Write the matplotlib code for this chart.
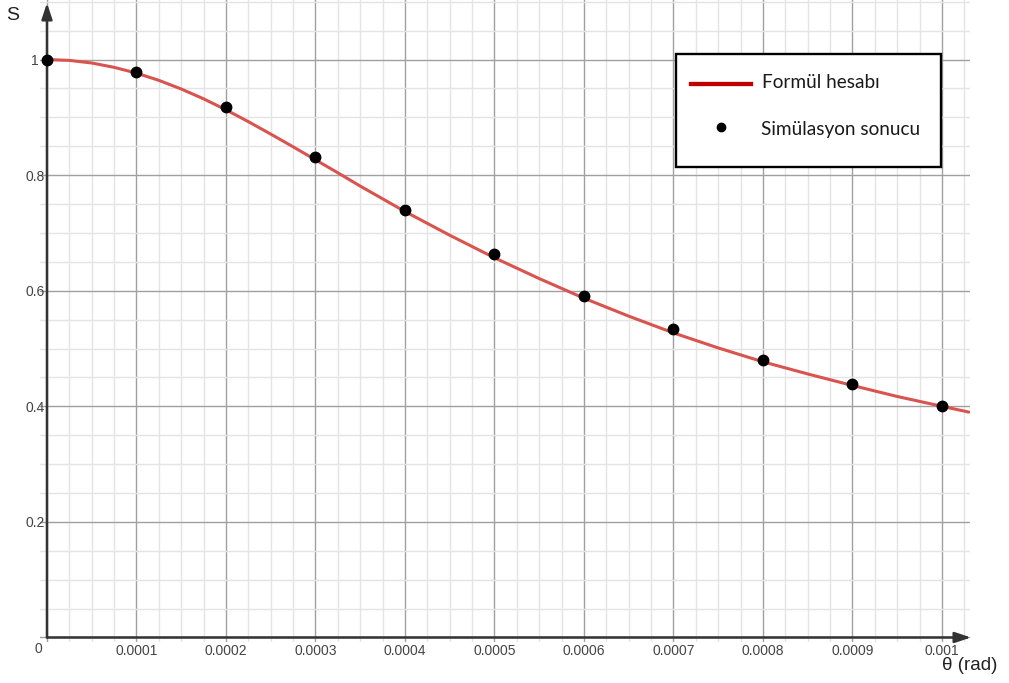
import matplotlib.pyplot as plt
from matplotlib.patches import Rectangle
from matplotlib.lines import Line2D
from matplotlib.ticker import MultipleLocator

# formula curve S(theta)
theta_curve = [0, 0.000025, 0.00005, 0.000075, 0.0001, 0.000125, 0.00015,
               0.000175, 0.0002, 0.000225, 0.00025, 0.000275, 0.0003,
               0.000325, 0.00035, 0.0004, 0.00045, 0.0005, 0.00055, 0.0006,
               0.00065, 0.0007, 0.00075, 0.0008, 0.00085, 0.0009, 0.00095,
               0.001, 0.00103]
s_curve = [1.000, 0.9985, 0.994, 0.9865, 0.9765, 0.964, 0.949,
           0.932, 0.913, 0.8925, 0.871, 0.849, 0.8265,
           0.804, 0.781, 0.737, 0.696, 0.657, 0.621, 0.587,
           0.556, 0.527, 0.501, 0.477, 0.456, 0.436, 0.417,
           0.400, 0.390]

# simulation results
theta_sim = [0, 0.0001, 0.0002, 0.0003, 0.0004, 0.0005, 0.0006, 0.0007,
             0.0008, 0.0009, 0.001]
s_sim = [1.000, 0.978, 0.918, 0.831, 0.740, 0.663, 0.590, 0.533,
         0.480, 0.438, 0.400]

x_ticks = [0, 0.0001, 0.0002, 0.0003, 0.0004, 0.0005, 0.0006, 0.0007,
           0.0008, 0.0009, 0.001]
x_tick_labels = ['', '0.0001', '0.0002', '0.0003', '0.0004', '0.0005',
                 '0.0006', '0.0007', '0.0008', '0.0009', '0.001']
y_ticks = [0, 0.2, 0.4, 0.6, 0.8, 1.0]
y_tick_labels = ['', '0.2', '0.4', '0.6', '0.8', '1']

W, H = 1009, 683


def px(x, y):
    # pixel position -> figure fraction
    return x / W, 1 - y / H


fig = plt.figure(figsize=(W / 100, H / 100), dpi=100)
ax = fig.add_axes([40 / W, 41 / H, 930 / W, 642 / H])
ax.set_xlim(-7.8e-6, 1.0313e-3)
ax.set_ylim(-0.0078, 1.103)

for s in ax.spines.values():
    s.set_visible(False)

ax.set_xticks(x_ticks)
ax.set_xticklabels(x_tick_labels)
ax.set_yticks(y_ticks)
ax.set_yticklabels(y_tick_labels)
ax.xaxis.set_minor_locator(MultipleLocator(0.000025))
ax.yaxis.set_minor_locator(MultipleLocator(0.05))
ax.tick_params(which='both', length=0)
ax.tick_params(axis='x', pad=1.5, labelsize=10, labelcolor='#444444')
ax.tick_params(axis='y', pad=3.6, labelsize=10, labelcolor='#444444')
for lbl in ax.get_xticklabels() + ax.get_yticklabels():
    lbl.set_fontfamily('Liberation Sans')
for lbl in ax.get_yticklabels():
    lbl.set_horizontalalignment('center')

ax.grid(which='major', color='#a0a0a0', lw=1.0)
ax.grid(which='minor', color='#e4e4e4', lw=1.0)
ax.set_axisbelow(True)

# axes with arrow heads
arrow_kw = dict(arrowstyle='-|>,head_length=0.6,head_width=0.2',
                color='#333333', lw=1.8, mutation_scale=16,
                shrinkA=0, shrinkB=0)
ax.annotate('', xy=(0.0010324, 0), xytext=(0, 0), arrowprops=arrow_kw,
            annotation_clip=False)
ax.annotate('', xy=(0, 1.0978), xytext=(0, 0), arrowprops=arrow_kw,
            annotation_clip=False)
ax.annotate('0', xy=(0, 0), xytext=(-6, -8.5), textcoords='offset points',
            ha='center', va='center', fontsize=10, color='#444444',
            family='Liberation Sans', annotation_clip=False)

ax.plot(theta_curve, s_curve, color='#d9534f', lw=2.2, zorder=4,
        solid_capstyle='round', solid_joinstyle='round')
ax.plot(theta_sim, s_sim, 'o', color='black', ms=7.5, zorder=5, clip_on=False)

fig.text(*px(13, 15), 'S', ha='center', va='center', fontsize=14,
         color='#222222', family='Liberation Sans')
fig.text(*px(970, 666), 'θ (rad)', ha='center', va='center', fontsize=13.5,
         color='#222222', family='Liberation Sans')

# legend box
x0, y0 = px(676, 167)
x1, y1 = px(941, 54)
fig.add_artist(Rectangle((x0, y0), x1 - x0, y1 - y0, transform=fig.transFigure,
                         facecolor='white', edgecolor='black', lw=1.7,
                         zorder=10))
lx0, ly = px(691, 84)
lx1, _ = px(751, 84)
fig.add_artist(Line2D([lx0, lx1], [ly, ly], transform=fig.transFigure,
                      color='#c00000', lw=3.1, zorder=11))
dx, dy = px(721, 127)
fig.add_artist(Line2D([dx], [dy], transform=fig.transFigure, marker='o',
                      color='black', ms=6, zorder=11))
fig.text(*px(762, 83), 'Formül hesabı', ha='left', va='center', fontsize=13.7,
         color='#1a1a1a', family='Lato', zorder=12)
fig.text(*px(761, 129), 'Simülasyon sonucu', ha='left', va='center',
         fontsize=13.7, color='#1a1a1a', family='Lato', zorder=12)

fig.savefig('out.png', dpi=100)
